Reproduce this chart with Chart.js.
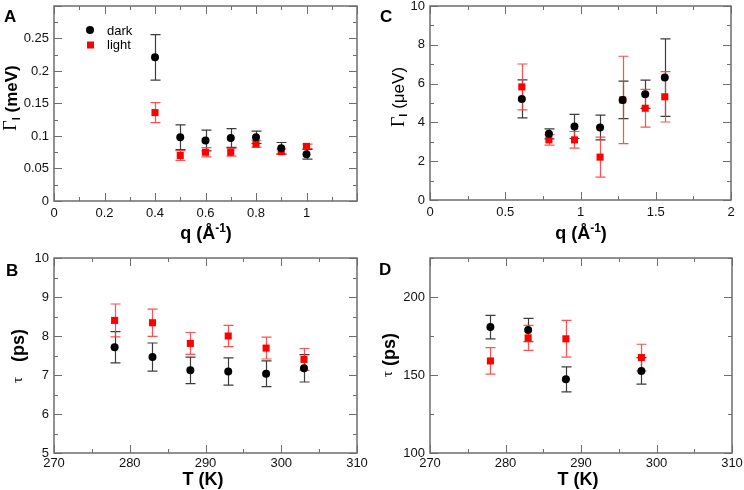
<!DOCTYPE html>
<html>
<head>
<meta charset="utf-8">
<script src="https://cdn.jsdelivr.net/npm/chart.js@4.4.0/dist/chart.umd.min.js"></script>
<style>
  body { margin: 0; background: #fff; }
  .panel { position: absolute; width: 372px; height: 245px; }
</style>
</head>
<body>
<div class="panel" style="left:0;top:0"><canvas id="chartA" width="372" height="245"></canvas></div>
<div class="panel" style="left:372px;top:0"><canvas id="chartC" width="372" height="245"></canvas></div>
<div class="panel" style="left:0;top:245px"><canvas id="chartB" width="372" height="245"></canvas></div>
<div class="panel" style="left:372px;top:245px"><canvas id="chartD" width="372" height="245"></canvas></div>
<script>
// Panel A: linewidth vs q (meV)
const qA = [0.4, 0.5, 0.6, 0.7, 0.8, 0.9, 1.0];
const darkA = [0.221, 0.098, 0.093, 0.097, 0.098, 0.081, 0.072];
const darkErrA = [0.035, 0.019, 0.016, 0.0145, 0.0095, 0.009, 0.0075];
const lightA = [0.136, 0.070, 0.075, 0.075, 0.088, 0.076, 0.084];
const lightErrA = [0.0155, 0.0075, 0.007, 0.006, 0.0055, 0.004, 0.0035];

// Panel C: linewidth vs q (ueV)
const qC = [0.61, 0.79, 0.96, 1.13, 1.28, 1.43, 1.56];
const darkC = [5.21, 3.41, 3.79, 3.74, 5.16, 5.45, 6.31];
const darkErrC = [0.98, 0.26, 0.62, 0.64, 0.97, 0.73, 2.0];
const lightC = [5.83, 3.10, 3.10, 2.21, 5.16, 4.73, 5.32];
const lightErrC = [1.18, 0.27, 0.43, 1.03, 2.25, 0.97, 1.3];

// Panel B: tau vs T (fast)
const tB = [278, 283, 288, 293, 298, 303];
const darkB = [7.71, 7.46, 7.12, 7.09, 7.03, 7.17];
const darkErrB = [0.40, 0.36, 0.34, 0.35, 0.33, 0.35];
const lightB = [8.40, 8.34, 7.81, 8.00, 7.69, 7.40];
const lightErrB = [0.42, 0.35, 0.28, 0.27, 0.28, 0.28];

// Panel D: tau vs T (slow)
const tD = [278, 283, 288, 298];
const darkD = [180.7, 178.8, 147.2, 152.6];
const darkErrD = [7.5, 7.5, 8, 8.5];
const lightD = [159.0, 173.8, 173.2, 161.2];
const lightErrD = [8.5, 8, 11.8, 8.5];

const SANS = "'Liberation Sans', Arial, sans-serif";
const SERIF = "'Liberation Serif', 'Times New Roman', serif";

function points(xs, ys) {
    return xs.map((x, i) => ({ x: x, y: ys[i] }));
}

function fmt(v) {
    return String(parseFloat(v.toFixed(4)));
}

// frame round the plot with inward major/minor ticks on every side
const frameTicks = {
    id: 'frameTicks',
    afterDraw(chart, args, o) {
        const ctx = chart.ctx;
        const a = chart.chartArea;
        const xs = chart.scales.x, ys = chart.scales.y;
        ctx.save();
        ctx.strokeStyle = '#6e6e6e';
        ctx.lineWidth = 1;
        ctx.beginPath();
        let n = Math.round((xs.max - xs.min) / o.xMinor);
        for (let i = 0; i <= n; i++) {
            const px = Math.round(xs.getPixelForValue(xs.min + i * o.xMinor)) + 0.5;
            const len = i % 2 === 0 ? 8 : 4;
            ctx.moveTo(px, a.bottom); ctx.lineTo(px, a.bottom - len);
            ctx.moveTo(px, a.top); ctx.lineTo(px, a.top + len);
        }
        n = Math.round((ys.max - ys.min) / o.yMinor);
        for (let i = 0; i <= n; i++) {
            const py = Math.round(ys.getPixelForValue(ys.min + i * o.yMinor)) + 0.5;
            const len = i % 2 === 0 ? 8 : 4;
            ctx.moveTo(a.left, py); ctx.lineTo(a.left + len, py);
            ctx.moveTo(a.right, py); ctx.lineTo(a.right - len, py);
        }
        ctx.stroke();
        ctx.lineWidth = 1.5;
        ctx.strokeRect(a.left, a.top, a.right - a.left, a.bottom - a.top);
        ctx.restore();
    }
};

// vertical error bars with caps, drawn below the markers
const errorBars = {
    id: 'errorBars',
    beforeDatasetsDraw(chart) {
        const ctx = chart.ctx;
        const ys = chart.scales.y;
        chart.data.datasets.forEach((ds, i) => {
            const meta = chart.getDatasetMeta(i);
            ctx.save();
            ctx.strokeStyle = ds.errorColor;
            ctx.lineWidth = 1.2;
            ds.data.forEach((p, j) => {
                const x = Math.round(meta.data[j].x) + 0.5;
                const top = ys.getPixelForValue(p.y + ds.errors[j]);
                const bot = ys.getPixelForValue(p.y - ds.errors[j]);
                ctx.beginPath();
                ctx.moveTo(x, top); ctx.lineTo(x, bot);
                ctx.moveTo(x - 5, top); ctx.lineTo(x + 5, top);
                ctx.moveTo(x - 5, bot); ctx.lineTo(x + 5, bot);
                ctx.stroke();
            });
            ctx.restore();
        });
    }
};

function drawPieces(ctx, pieces, cx, baseline) {
    let w = 0;
    pieces.forEach(p => { ctx.font = p.font; w += ctx.measureText(p.text).width; });
    let x = cx - w / 2;
    ctx.textBaseline = 'alphabetic';
    ctx.textAlign = 'left';
    pieces.forEach(p => {
        ctx.font = p.font;
        ctx.fillText(p.text, x, baseline + (p.dy || 0));
        x += ctx.measureText(p.text).width;
    });
}

// axis titles, panel letter and the legend of panel A
const labels = {
    id: 'labels',
    afterDraw(chart, args, o) {
        const ctx = chart.ctx;
        ctx.save();
        ctx.fillStyle = '#000';
        drawPieces(ctx, o.xTitle, o.xPos[0], o.xPos[1]);
        ctx.save();
        ctx.translate(o.yPos[0], o.yPos[1]);
        ctx.rotate(-Math.PI / 2);
        drawPieces(ctx, o.yTitle, 0, 0);
        ctx.restore();
        ctx.font = 'bold 17px ' + SANS;
        ctx.textBaseline = 'alphabetic';
        ctx.fillText(o.letter, o.letterPos[0], o.letterPos[1]);
        if (o.legend) {
            const ds = chart.data.datasets;
            ctx.font = '13px ' + SANS;
            ctx.fillStyle = ds[0].backgroundColor;
            ctx.beginPath();
            ctx.arc(90, 30, 4, 0, Math.PI * 2);
            ctx.fill();
            ctx.fillStyle = ds[1].backgroundColor;
            ctx.fillRect(87, 41.5, 7, 7);
            ctx.fillStyle = '#000';
            ctx.fillText(ds[0].label, 107, 34.5);
            ctx.fillText(ds[1].label, 107, 48.5);
        }
        ctx.restore();
    }
};

function makeDatasets(x, dark, darkErr, light, lightErr) {
    return [{
        label: 'dark',
        data: points(x, dark),
        errors: darkErr,
        errorColor: '#3c3c3c',
        pointStyle: 'circle',
        pointRadius: 4,
        backgroundColor: '#000',
        borderColor: '#000',
        borderWidth: 0
    }, {
        label: 'light',
        data: points(x, light),
        errors: lightErr,
        errorColor: 'rgba(255, 50, 50, 0.85)',
        pointStyle: 'rect',
        pointRadius: 5,
        backgroundColor: '#ff0000',
        borderColor: '#ff0000',
        borderWidth: 0
    }];
}

function makeChart(id, p) {
    const ctx = document.getElementById(id).getContext('2d');
    return new Chart(ctx, {
        type: 'scatter',
        data: { datasets: p.datasets },
        options: {
            responsive: false,
            animation: false,
            layout: { padding: { top: p.area.top, right: 372 - p.area.right, left: 0, bottom: 0 } },
            scales: {
                x: {
                    type: 'linear',
                    min: p.x.min, max: p.x.max,
                    grid: { display: false, drawTicks: false },
                    border: { display: false },
                    ticks: {
                        stepSize: p.x.step, padding: p.x.pad,
                        color: '#111', font: { family: SANS, size: 13 },
                        maxRotation: 0, autoSkip: false,
                        callback: v => (p.x.hide && p.x.hide(v)) ? '' : fmt(v)
                    },
                    afterFit(s) {
                        s.height = 245 - p.area.bottom;
                        s.paddingLeft = 0; s.paddingRight = 0;
                    }
                },
                y: {
                    type: 'linear',
                    min: p.y.min, max: p.y.max,
                    grid: { display: false, drawTicks: false },
                    border: { display: false },
                    ticks: {
                        stepSize: p.y.step, padding: 5, includeBounds: false,
                        color: '#111', font: { family: SANS, size: 13 },
                        autoSkip: false,
                        callback: v => (p.y.hide && p.y.hide(v)) ? '' : fmt(v)
                    },
                    afterFit(s) {
                        s.width = p.area.left;
                        s.paddingTop = 0; s.paddingBottom = 0;
                    }
                }
            },
            plugins: {
                legend: { display: false },
                tooltip: { enabled: false },
                frameTicks: { xMinor: p.x.minor, yMinor: p.y.minor },
                labels: p.labels
            }
        },
        plugins: [errorBars, frameTicks, labels]
    });
}

const qTitle = [
    { text: 'q (Å', font: 'bold 18px ' + SANS },
    { text: '-1', font: 'bold 12px ' + SANS, dy: -7 },
    { text: ')', font: 'bold 18px ' + SANS }
];
const tTitle = [{ text: 'T (K)', font: 'bold 18px ' + SANS }];

makeChart('chartA', {
    datasets: makeDatasets(qA, darkA, darkErrA, lightA, lightErrA),
    area: { left: 54, right: 357, top: 6, bottom: 201 },
    x: { min: 0, max: 1.2, step: 0.2, minor: 0.1, pad: 5, hide: v => v > 1.1 },
    y: { min: 0, max: 0.3, step: 0.05, minor: 0.025, hide: v => v > 0.28 },
    labels: {
        xTitle: qTitle, xPos: [206, 239],
        yTitle: [
            { text: 'Γ', font: '18px ' + SERIF, dy: -1 },
            { text: 'l', font: 'bold 11px ' + SANS, dy: 3 },
            { text: ' (meV)', font: 'bold 17px ' + SANS }
        ],
        yPos: [17, 98],
        letter: 'A', letterPos: [4, 22],
        legend: true
    }
});

makeChart('chartC', {
    datasets: makeDatasets(qC, darkC, darkErrC, lightC, lightErrC),
    area: { left: 58, right: 359, top: 6, bottom: 200 },
    x: { min: 0, max: 2, step: 0.5, minor: 0.25, pad: 5 },
    y: { min: 0, max: 10, step: 2, minor: 1 },
    labels: {
        xTitle: qTitle, xPos: [209, 239],
        yTitle: [
            { text: 'Γ', font: '18px ' + SERIF },
            { text: 'l', font: 'bold 11px ' + SANS, dy: 3 },
            { text: ' (μeV)', font: '17px ' + SANS }
        ],
        yPos: [32, 97],
        letter: 'C', letterPos: [8, 22]
    }
});

makeChart('chartB', {
    datasets: makeDatasets(tB, darkB, darkErrB, lightB, lightErrB),
    area: { left: 54, right: 357, top: 13, bottom: 208 },
    x: { min: 270, max: 310, step: 10, minor: 5, pad: 3 },
    y: { min: 5, max: 10, step: 1, minor: 0.5 },
    labels: {
        xTitle: tTitle, xPos: [203, 240],
        yTitle: [
            { text: 'τ', font: '15px ' + SERIF, dy: -2 },
            { text: '   (ps)', font: 'bold 18px ' + SANS }
        ],
        yPos: [24, 111],
        letter: 'B', letterPos: [6, 31]
    }
});

makeChart('chartD', {
    datasets: makeDatasets(tD, darkD, darkErrD, lightD, lightErrD),
    area: { left: 58, right: 360, top: 13, bottom: 208 },
    x: { min: 270, max: 310, step: 10, minor: 5, pad: 3 },
    y: { min: 100, max: 225, step: 50, minor: 25 },
    labels: {
        xTitle: tTitle, xPos: [206, 240],
        yTitle: [
            { text: 'τ', font: '15px ' + SERIF, dy: -3 },
            { text: ' (ps)', font: 'bold 18px ' + SANS }
        ],
        yPos: [23, 110],
        letter: 'D', letterPos: [7, 30]
    }
});
</script>
</body>
</html>
